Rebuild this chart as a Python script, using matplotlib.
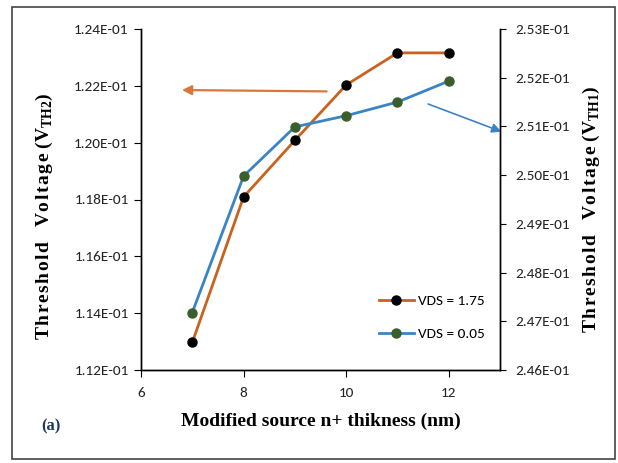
import matplotlib
matplotlib.use("Agg")
import matplotlib.pyplot as plt
from matplotlib.patches import Rectangle
from matplotlib.lines import Line2D

# Data
thickness = [7, 8, 9, 10, 11, 12]
vth2_vds175 = [0.11297, 0.11809, 0.12008, 0.12203, 0.12316, 0.12316]
vth1_vds005 = [0.24718, 0.24998, 0.25099, 0.25122, 0.25150, 0.25193]
left_ticks = [0.112, 0.114, 0.116, 0.118, 0.120, 0.122, 0.124]
right_ticks = [0.246, 0.247, 0.248, 0.249, 0.250, 0.251, 0.252, 0.253]
x_ticks = [6, 8, 10, 12]
labels = ["VDS = 1.75", "VDS = 0.05"]

ORANGE = "#C9621E"
BLUE = "#3A84C6"
GREEN = "#3A5F2A"

plt.rcParams['mathtext.fontset'] = 'custom'
plt.rcParams['mathtext.rm'] = 'Liberation Serif:bold'
plt.rcParams['mathtext.bf'] = 'Liberation Serif:bold'

TICKFONT = ['Carlito', 'Liberation Sans Narrow', 'DejaVu Sans']
serif = ['Liberation Serif', 'DejaVu Serif']
HS = '\u200a'


def spaced(s):
    return HS.join(list(s))


fig = plt.figure(figsize=(6.18, 4.63), dpi=100)
ax = fig.add_axes([141/618, 1-370/463, (500-141)/618, (370-29)/463])
ax2 = ax.twinx()

ax.plot(thickness, vth2_vds175, color=ORANGE, lw=2.0, marker='o', ms=6.5,
        mfc='black', mec='black', zorder=3)
ax2.plot(thickness, vth1_vds005, color=BLUE, lw=2.0, marker='o', ms=6.5,
         mfc=GREEN, mec=GREEN, zorder=3)

ax.set_xlim(6, 13)
ax.set_ylim(0.112, 0.124)
ax2.set_ylim(0.246, 0.253)
ax.set_xticks(x_ticks)
ax.set_yticks(left_ticks)
ax2.set_yticks(right_ticks)
ax.set_yticklabels([f"{v*10:.2f}E-01" for v in left_ticks])
ax2.set_yticklabels([f"{v*10:.2f}E-01" for v in right_ticks])

for a in (ax, ax2):
    for lab in a.get_yticklabels() + a.get_xticklabels():
        lab.set_family(TICKFONT)
        lab.set_fontsize(11)
        lab.set_color('#222222')
    for s in a.spines.values():
        s.set_linewidth(1.0)
ax.spines['top'].set_visible(False)
ax2.spines['top'].set_visible(False)
ax.tick_params(axis='y', direction='out', length=5, pad=4)
ax.tick_params(axis='x', direction='out', length=5, pad=7)
ax2.tick_params(axis='y', direction='out', length=4, pad=7)

ax.set_ylabel(spaced('Threshold') + '   ' + spaced('Voltage') + r' (V$_{\mathbf{TH2}}$)',
              family=serif, fontweight='bold', fontsize=14)
ax.yaxis.set_label_coords(-0.24, 0.452)
ax2.set_ylabel(spaced('Threshold') + '   ' + spaced('Voltage') + r' (V$_{\mathbf{TH1}}$)',
               family=serif, fontweight='bold', fontsize=14, rotation=90)
ax2.yaxis.set_label_coords(1.225, 0.47)
ax.set_xlabel('Modified source n+ thikness (nm)', family=serif,
              fontweight='bold', fontsize=14)
ax.xaxis.set_label_coords(0.5, -0.125)

fig.text(51/618, 1-426/463, '(a)', family=serif, fontweight='bold',
         fontsize=12, color='#1F3864', ha='center', va='center')

# Arrows
ax.annotate('', xy=(0.114, 0.821), xytext=(0.517, 0.817), xycoords='axes fraction',
            arrowprops=dict(arrowstyle='-|>', color='#D9773A', lw=1.6,
                            mutation_scale=14, shrinkA=0, shrinkB=0))
ax.annotate('', xy=(1.004, 0.699), xytext=(0.80, 0.78), xycoords='axes fraction',
            arrowprops=dict(arrowstyle='-|>', color=BLUE, lw=1.2,
                            mutation_scale=14, shrinkA=0, shrinkB=0),
            annotation_clip=False)

handles = [Line2D([], [], color=ORANGE, lw=2.0, marker='o', ms=6.5, mfc='black', mec='black'),
           Line2D([], [], color=BLUE, lw=2.0, marker='o', ms=6.5, mfc=GREEN, mec=GREEN)]
leg = ax.legend(handles, labels, loc='upper left',
                bbox_to_anchor=(371/618, 1-287/463), bbox_transform=fig.transFigure,
                frameon=False, borderpad=0, handlelength=2.3, handletextpad=0.3,
                labelspacing=1.3, prop={'family': TICKFONT, 'size': 11})

# Figure border
fig.patches.append(Rectangle((12/618, 1-459/463), (615-12)/618, (459-7)/463,
                             transform=fig.transFigure, fill=False,
                             edgecolor='#444444', lw=1.2))

fig.savefig('out.png', dpi=100)
